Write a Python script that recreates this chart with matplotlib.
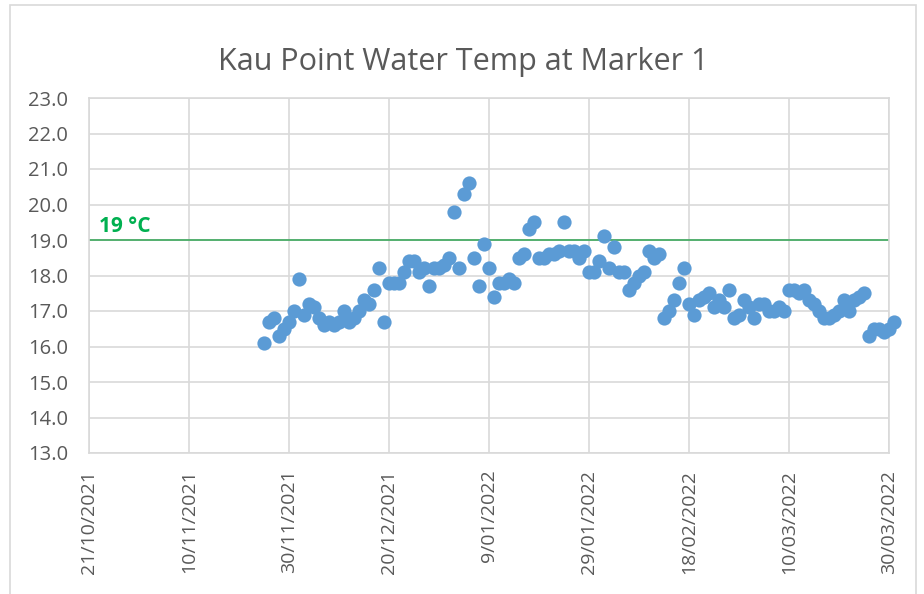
import datetime as dt
import matplotlib
matplotlib.use("Agg")
import matplotlib.pyplot as plt
from matplotlib.patches import Rectangle

# daily readings, first one on 25/11/2021
start_day = dt.date(2021, 11, 25)
temps = [
    16.1, 16.7, 16.8, 16.3, 16.5, 16.7, 17.0, 17.9, 16.9, 17.2,
    17.1, 16.8, 16.6, 16.7, 16.6, 16.7, 17.0, 16.7, 16.8, 17.0,
    17.3, 17.2, 17.6, 18.2, 16.7, 17.8, 17.8, 17.8, 18.1, 18.4,
    18.4, 18.1, 18.2, 17.7, 18.2, 18.2, 18.3, 18.5, 19.8, 18.2,
    20.3, 20.6, 18.5, 17.7, 18.9, 18.2, 17.4, 17.8, 17.8, 17.9,
    17.8, 18.5, 18.6, 19.3, 19.5, 18.5, 18.5, 18.6, 18.6, 18.7,
    19.5, 18.7, 18.7, 18.5, 18.7, 18.1, 18.1, 18.4, 19.1, 18.2,
    18.8, 18.1, 18.1, 17.6, 17.8, 18.0, 18.1, 18.7, 18.5, 18.6,
    16.8, 17.0, 17.3, 17.8, 18.2, 17.2, 16.9, 17.3, 17.4, 17.5,
    17.1, 17.3, 17.1, 17.6, 16.8, 16.9, 17.3, 17.1, 16.8, 17.2,
    17.2, 17.0, 17.0, 17.1, 17.0, 17.6, 17.6, 17.5, 17.6, 17.3,
    17.2, 17.0, 16.8, 16.8, 16.9, 17.0, 17.3, 17.0, 17.3, 17.4,
    17.5, 16.3, 16.5, 16.5, 16.4, 16.5, 16.7,
]
dates = [start_day + dt.timedelta(days=i) for i in range(len(temps))]

threshold = 19.0
threshold_label = "19 °C"
title = "Kau Point Water Temp at Marker 1"

x_start = dt.date(2021, 10, 21)
x_end = dt.date(2022, 3, 30)
tick_dates = [x_start + dt.timedelta(days=20 * k) for k in range(9)]
y_ticks = [13 + k for k in range(11)]

grey = "#595959"
grid_col = "#D9D9D9"

fig = plt.figure(figsize=(9.24, 5.94), dpi=100)
ax = fig.add_axes([89 / 924, 1 - 453 / 594, 800 / 924, 355 / 594])

ax.scatter(dates, temps, s=105, color="#5B9BD5", zorder=3, linewidths=0,
           clip_on=False)
ax.axhline(threshold, color="#2EA352", lw=1.1, zorder=2)
ax.text(dt.date(2021, 10, 23), threshold + 0.22, threshold_label,
        color="#00B050", fontsize=15, fontweight="bold", family="Open Sans")

ax.set_xlim(x_start, x_end)
ax.set_ylim(13, 23)
ax.set_xticks(tick_dates)
ax.set_xticklabels([f"{d.day}/{d.month:02d}/{d.year}" for d in tick_dates],
                   rotation=90, fontsize=14, color=grey, family="Open Sans")
ax.set_yticks(y_ticks)
ax.set_yticklabels([f"{v:.1f}" for v in y_ticks], fontsize=14.5, color=grey,
                   family="Open Sans")
ax.tick_params(axis="x", length=0, pad=12)
ax.tick_params(axis="y", length=0, pad=15)
ax.grid(True, color=grid_col, lw=1.2, zorder=0)
ax.set_axisbelow(True)
for s in ax.spines.values():
    s.set_color(grid_col)
    s.set_linewidth(1.2)

fig.text(463 / 924, 1 - 70 / 594, title, ha="center", va="baseline",
         fontsize=22, color=grey, family="Open Sans")

# chart border
fig.patches.append(Rectangle((10 / 924, -0.01), 906 / 924, 1 - 5 / 594 + 0.01,
                             transform=fig.transFigure, fill=False,
                             edgecolor=grid_col, lw=1.2))

fig.savefig("out.png", dpi=100)
